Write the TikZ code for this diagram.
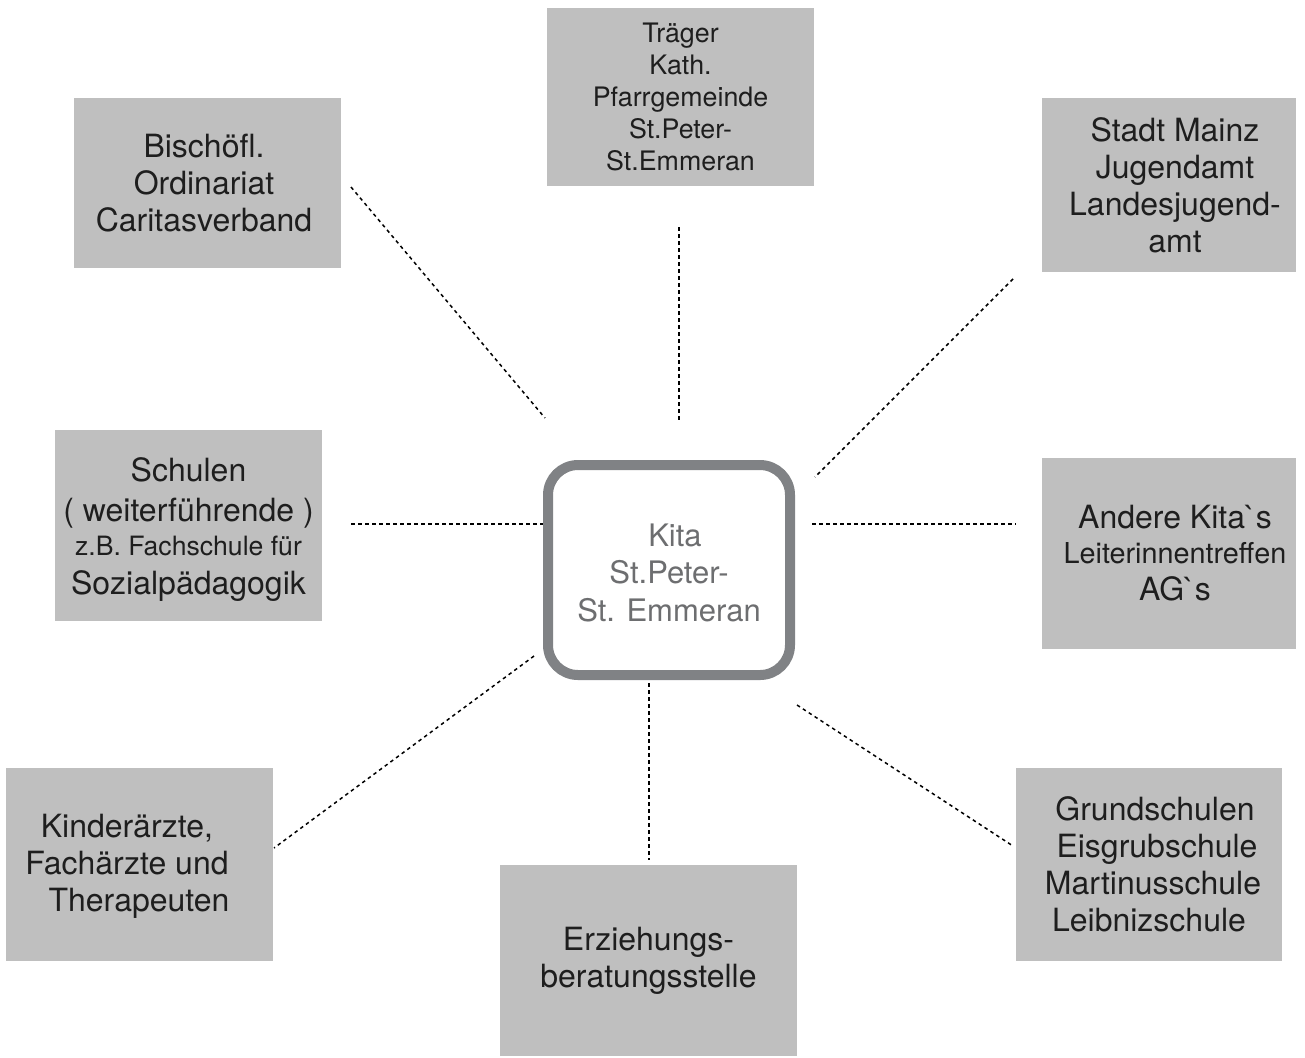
\documentclass[tikz,border=0pt]{standalone}
\usepackage{fontspec}
\setmainfont{TeX Gyre Heros}
\usetikzlibrary{positioning}
\definecolor{boxgray}{HTML}{BFBFBF}
\definecolor{framegray}{HTML}{808285}
\definecolor{kitagray}{HTML}{6D6E70}
\definecolor{inkgray}{HTML}{1E1E1E}
\tikzset{
  infobox/.style={rectangle, fill=boxgray, inner sep=0pt, align=center, text=inkgray,
                  font=\fontsize{16}{18.5}\selectfont},
  smalltext/.style={font=\fontsize{13.4}{16}\selectfont},
  kitabox/.style={rectangle, draw=framegray, line width=5pt, rounded corners=15pt, fill=white,
                  inner sep=0pt, align=center, text=kitagray, font=\fontsize{15.5}{18.75}\selectfont},
  link/.style={draw=black, line width=0.75pt, dash pattern=on 1.75pt off 1.75pt},
}

\begin{document}
\begin{tikzpicture}[x=0.5pt, y=-0.5pt]
  \useasboundingbox (0,0) rectangle (1305,1057);

  % centre
  \node[kitabox, minimum width=121pt, minimum height=105pt] (kita) at (669,570)
    {\rule{0pt}{14pt}\hspace*{6pt}Kita\\St.Peter-\\St. Emmeran};

  % partners
  \node[infobox, smalltext, minimum width=133.5pt, minimum height=89pt] (traeger) at (680.5,97)
    {Träger\\Kath.\\Pfarrgemeinde\\St.Peter-\\St.Emmeran};
  \node[infobox, minimum width=133.5pt, minimum height=85pt] (bischof) at (207.5,183) {};
  \node[infobox, fill=none] (bischoftext) at (204,183)
    {Bischöfl.\\Ordinariat\\Caritasverband};
  \node[infobox, minimum width=127pt, minimum height=87pt] (stadt) at (1169,185)
    {\hspace*{6pt}Stadt Mainz\\\hspace*{6pt}Jugendamt\\\hspace*{6pt}Landesjugend-\\\hspace*{6pt}amt};
  \node[infobox, minimum width=133.5pt, minimum height=95.5pt] (schulen) at (188.5,525.5)
    {\rule{0pt}{16pt}Schulen\\[1.5pt]( weiterführende )\\[-1.5pt]{\fontsize{13.3}{16}\selectfont z.B. Fachschule für}\\[1pt]Sozialpädagogik};
  \node[infobox, minimum width=127pt, minimum height=95.5pt] (andere) at (1169,553.5)
    {\hspace*{6pt}Andere Kita\textasciigrave s\\[-1pt]\hspace*{6pt}{\fontsize{14.4}{17}\selectfont Leiterinnentreffen}\\\hspace*{6pt}AG\textasciigrave s};
  \node[infobox, minimum width=133.5pt, minimum height=96.5pt] (kinder) at (139.5,864.5) {};
  \node[infobox, fill=none] (kindertext) at (127,866)
    {Kinderärzte,\\Fachärzte und\\\hspace*{12pt}Therapeuten};
  \node[infobox, minimum width=148.5pt, minimum height=95.5pt] (erziehung) at (648.5,960.5)
    {Erziehungs-\\beratungsstelle};
  \node[infobox, minimum width=133pt, minimum height=96.5pt] (grund) at (1149,864.5)
    {\hspace*{6pt}Grundschulen\\\hspace*{8pt}Eisgrubschule\\\hspace*{4pt}Martinusschule\\Leibnizschule};

  % ends of the dotted links
  \coordinate (bischofA) at (351,187);
  \coordinate (bischofB) at (545,418);
  \coordinate (traegerA) at (679,227);
  \coordinate (traegerB) at (679,420);
  \coordinate (stadtA) at (1013,279);
  \coordinate (stadtB) at (815,477);
  \coordinate (schulenA) at (351,524);
  \coordinate (schulenB) at (543,524);
  \coordinate (andereA) at (812,524);
  \coordinate (andereB) at (1016,524);
  \coordinate (kinderA) at (534,656);
  \coordinate (kinderB) at (274,848);
  \coordinate (erzA) at (649,683);
  \coordinate (erzB) at (649,860);
  \coordinate (grundA) at (797,705);
  \coordinate (grundB) at (1013,846);

  \draw[link] (bischofA) -- (bischofB);
  \draw[link] (traegerA) -- (traegerB);
  \draw[link] (stadtA) -- (stadtB);
  \draw[link] (schulenA) -- (schulenB);
  \draw[link] (andereA) -- (andereB);
  \draw[link] (kinderA) -- (kinderB);
  \draw[link] (erzA) -- (erzB);
  \draw[link] (grundA) -- (grundB);
\end{tikzpicture}
\end{document}
